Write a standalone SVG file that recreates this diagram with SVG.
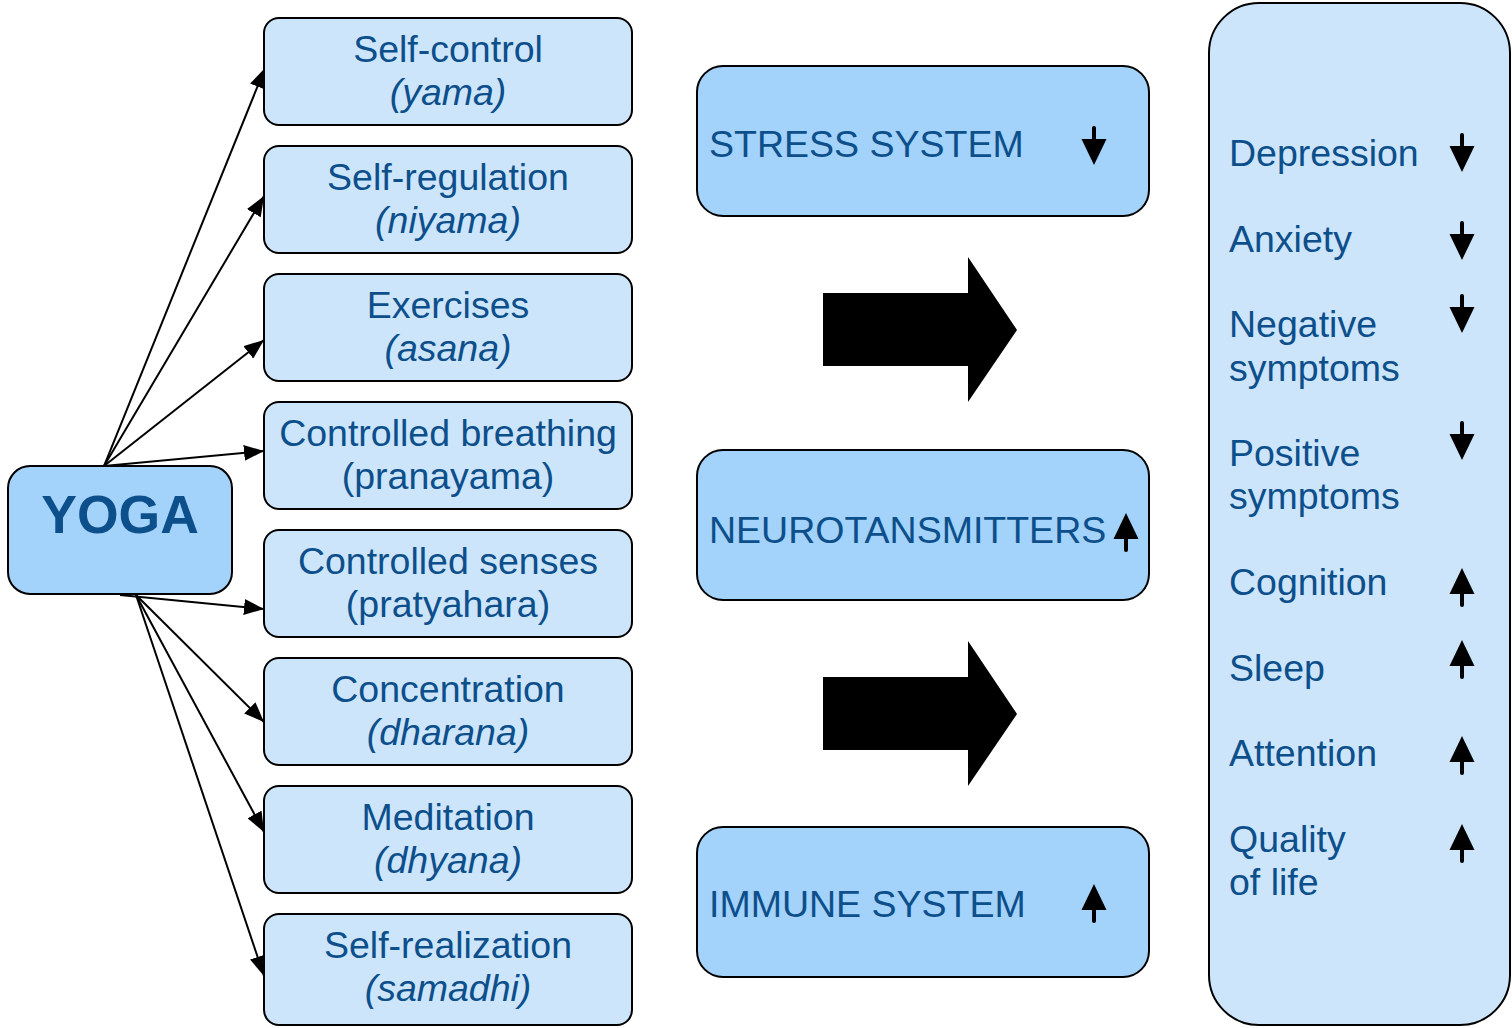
<svg xmlns="http://www.w3.org/2000/svg" xmlns:xlink="http://www.w3.org/1999/xlink" width="1512" height="1028" viewBox="0 0 1512 1028">
<style>
  .light { fill: #cce5fb; stroke: #000; stroke-width: 2; }
  .mid { fill: #a3d2fa; stroke: #000; stroke-width: 2; }
  text { font-family: "Liberation Sans", Arial, sans-serif; fill: #0d4f8b; font-size: 37.5px; }
  .c { text-anchor: middle; }
  .i { font-style: italic; }
  .conn { stroke: #000; stroke-width: 2; fill: none; marker-end: url(#ah); }
</style>
<defs>
  <marker id="ah" viewBox="0 0 20 16" refX="20" refY="8" markerWidth="20" markerHeight="16" markerUnits="userSpaceOnUse" orient="auto">
    <path d="M0,0 L20,8 L0,16 z" fill="#000"/>
  </marker>
  <g id="down">
    <line x1="0" y1="-18" x2="0" y2="-6" stroke="#000" stroke-width="4" stroke-linecap="round"/>
    <path d="M-12.5,-7 L12.5,-7 L0,19 z" fill="#000"/>
  </g>
  <g id="up">
    <line x1="0" y1="18" x2="0" y2="6" stroke="#000" stroke-width="4" stroke-linecap="round"/>
    <path d="M-12.5,7 L12.5,7 L0,-19 z" fill="#000"/>
  </g>
  <path id="bigarrow" d="M0,0 H145 V-36 L194,37 L145,109 V73 H0 z" fill="#000"/>
</defs>

<!-- connectors from YOGA to the eight limbs -->
<g id="connectors">
  <line class="conn" x1="104" y1="466" x2="265" y2="68"/>
  <line class="conn" x1="104" y1="466" x2="264" y2="196"/>
  <line class="conn" x1="104" y1="466" x2="264" y2="340"/>
  <line class="conn" x1="104" y1="466" x2="264" y2="451"/>
  <line class="conn" x1="120" y1="595" x2="264" y2="609"/>
  <line class="conn" x1="136" y1="595" x2="264" y2="722"/>
  <line class="conn" x1="136" y1="595" x2="264" y2="832"/>
  <line class="conn" x1="136" y1="595" x2="264" y2="976"/>
</g>

<g id="yoga">
  <rect class="mid" x="8" y="466" width="224" height="128" rx="22"/>
  <text class="c" x="120" y="533" style="font-size:53.5px;font-weight:bold">YOGA</text>
</g>

<g id="yama">
  <rect class="light" x="264" y="18" width="368" height="107" rx="15"/>
  <text class="c" x="448" y="62">Self-control</text>
  <text class="c i" x="448" y="105">(yama)</text>
</g>
<g id="niyama">
  <rect class="light" x="264" y="146" width="368" height="107" rx="15"/>
  <text class="c" x="448" y="190">Self-regulation</text>
  <text class="c i" x="448" y="233">(niyama)</text>
</g>
<g id="asana">
  <rect class="light" x="264" y="274" width="368" height="107" rx="15"/>
  <text class="c" x="448" y="318">Exercises</text>
  <text class="c i" x="448" y="361">(asana)</text>
</g>
<g id="pranayama">
  <rect class="light" x="264" y="402" width="368" height="107" rx="15"/>
  <text class="c" x="448" y="446">Controlled breathing</text>
  <text class="c" x="448" y="489">(pranayama)</text>
</g>
<g id="pratyahara">
  <rect class="light" x="264" y="530" width="368" height="107" rx="15"/>
  <text class="c" x="448" y="574">Controlled senses</text>
  <text class="c" x="448" y="617">(pratyahara)</text>
</g>
<g id="dharana">
  <rect class="light" x="264" y="658" width="368" height="107" rx="15"/>
  <text class="c" x="448" y="702">Concentration</text>
  <text class="c i" x="448" y="745">(dharana)</text>
</g>
<g id="dhyana">
  <rect class="light" x="264" y="786" width="368" height="107" rx="15"/>
  <text class="c" x="448" y="830">Meditation</text>
  <text class="c i" x="448" y="873">(dhyana)</text>
</g>
<g id="samadhi">
  <rect class="light" x="264" y="914" width="368" height="111" rx="15"/>
  <text class="c" x="448" y="958">Self-realization</text>
  <text class="c i" x="448" y="1001">(samadhi)</text>
</g>

<g id="stress">
  <rect class="mid" x="697" y="66" width="452" height="150" rx="26"/>
  <text x="709" y="157">STRESS SYSTEM</text>
  <use xlink:href="#down" x="1094" y="146"/>
</g>
<g id="neuro">
  <rect class="mid" x="697" y="450" width="452" height="150" rx="26"/>
  <text x="709" y="543">NEUROTANSMITTERS</text>
  <use xlink:href="#up" x="1126" y="532"/>
</g>
<g id="immune">
  <rect class="mid" x="697" y="827" width="452" height="150" rx="26"/>
  <text x="709" y="917">IMMUNE SYSTEM</text>
  <use xlink:href="#up" x="1094" y="903"/>
</g>

<use id="arrow-1" xlink:href="#bigarrow" x="823" y="293"/>
<use id="arrow-2" xlink:href="#bigarrow" x="823" y="677"/>

<g id="outcomes">
  <rect class="light" x="1209" y="3" width="301" height="1022" rx="50"/>
  <text x="1229" y="166">Depression</text>
  <use xlink:href="#down" x="1462" y="153"/>
  <text x="1229" y="252">Anxiety</text>
  <use xlink:href="#down" x="1462" y="241"/>
  <text x="1229" y="337">Negative</text>
  <text x="1229" y="381">symptoms</text>
  <use xlink:href="#down" x="1462" y="314"/>
  <text x="1229" y="466">Positive</text>
  <text x="1229" y="509">symptoms</text>
  <use xlink:href="#down" x="1462" y="441"/>
  <text x="1229" y="595">Cognition</text>
  <use xlink:href="#up" x="1462" y="587"/>
  <text x="1229" y="681">Sleep</text>
  <use xlink:href="#up" x="1462" y="659"/>
  <text x="1229" y="766">Attention</text>
  <use xlink:href="#up" x="1462" y="755"/>
  <text x="1229" y="852">Quality</text>
  <text x="1229" y="895">of life</text>
  <use xlink:href="#up" x="1462" y="843"/>
</g>
</svg>
